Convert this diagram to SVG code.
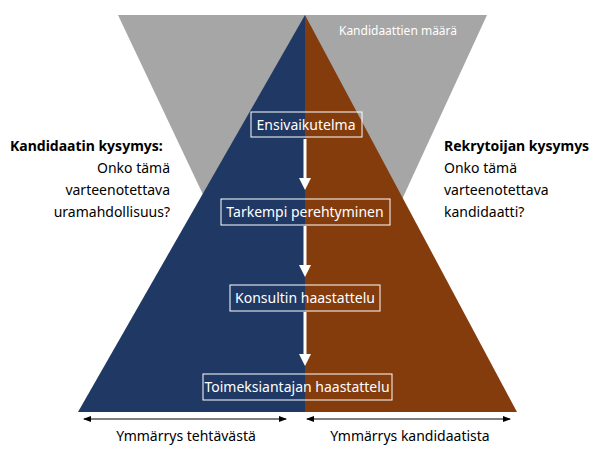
<svg xmlns="http://www.w3.org/2000/svg" width="600" height="455" viewBox="0 0 600 455">
<defs>
<style>
text{font-family:"Noto Sans","Liberation Sans",sans-serif;font-size:14px;fill:#000}
.w{fill:#fff}
.b{font-weight:bold}
.box{fill:none;stroke:#fff;stroke-width:1}
.arr{stroke:#fff;stroke-width:3}
.dim{stroke:#000;stroke-width:1}
</style>
<marker id="wh" markerWidth="4" markerHeight="4" refX="2" refY="2" orient="auto" markerUnits="strokeWidth"><path d="M0,0L4,2L0,4z" fill="#fff"/></marker>
<marker id="bh" markerWidth="8" markerHeight="6" refX="7" refY="3" orient="auto-start-reverse" markerUnits="userSpaceOnUse"><path d="M0,0L8,3L0,6z" fill="#000"/></marker>
</defs>
<polygon points="118,15 487,15 305,410" fill="#A6A6A6"/>
<polygon points="305,15 78,412 305,412" fill="#203864"/>
<polygon points="305,15 517,412 305,412" fill="#843C0C"/>
<text x="398" y="35" class="w" style="font-size:12px" text-anchor="middle">Kandidaattien määrä</text>
<g id="connectors">
<line class="arr" x1="305" y1="139" x2="305" y2="184" marker-end="url(#wh)"/>
<line class="arr" x1="305" y1="226" x2="305" y2="271" marker-end="url(#wh)"/>
<line class="arr" x1="305" y1="312" x2="305" y2="360" marker-end="url(#wh)"/>
<line class="dim" x1="84" y1="419" x2="286" y2="419" marker-start="url(#bh)" marker-end="url(#bh)"/>
<line class="dim" x1="307" y1="419" x2="510" y2="419" marker-start="url(#bh)" marker-end="url(#bh)"/>
</g>
<g id="n1"><rect class="box" x="251" y="112" width="111" height="25"/><text class="w" x="306" y="130" text-anchor="middle">Ensivaikutelma</text></g>
<g id="n2"><rect class="box" x="221" y="199" width="169" height="26"/><text class="w" x="305" y="217" text-anchor="middle">Tarkempi perehtyminen</text></g>
<g id="n3"><rect class="box" x="230" y="285" width="150" height="26"/><text class="w" x="305" y="303" text-anchor="middle">Konsultin haastattelu</text></g>
<g id="n4"><rect class="box" x="203" y="374" width="189" height="26"/><text class="w" x="297" y="392" text-anchor="middle">Toimeksiantajan haastattelu</text></g>
<g id="left">
<text x="10" y="151" class="b">Kandidaatin kysymys:</text>
<text x="170" y="173" text-anchor="end">Onko tämä</text>
<text x="170" y="195" text-anchor="end">varteenotettava</text>
<text x="170" y="217" text-anchor="end">uramahdollisuus?</text>
</g>
<g id="right">
<text x="444" y="151" class="b">Rekrytoijan kysymys</text>
<text x="444" y="173">Onko tämä</text>
<text x="444" y="195">varteenotettava</text>
<text x="444" y="217">kandidaatti?</text>
</g>
<text x="186" y="441" text-anchor="middle">Ymmärrys tehtävästä</text>
<text x="410" y="441" text-anchor="middle">Ymmärrys kandidaatista</text>
</svg>
